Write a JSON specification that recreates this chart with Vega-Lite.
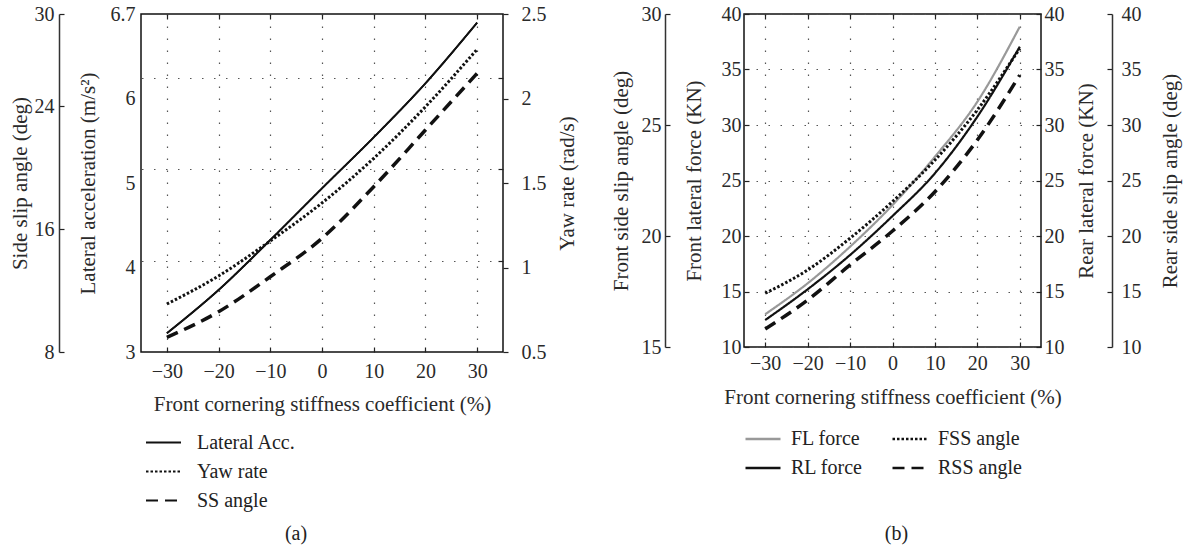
{
 "$schema": "https://vega.github.io/schema/vega-lite/v6.json",
 "background": "white",
 "padding": {"left": 8, "top": 3, "right": 5, "bottom": 5},
 "spacing": 31,
 "resolve": {"scale": {"color": "independent", "strokeDash": "independent"}, "legend": {"color": "independent", "strokeDash": "independent"}},
 "datasets": {
  "a": [
   {"x": -30, "series": "Lateral Acc.", "v": 3.205},
   {"x": -20, "series": "Lateral Acc.", "v": 3.679},
   {"x": -10, "series": "Lateral Acc.", "v": 4.226},
   {"x": 0, "series": "Lateral Acc.", "v": 4.792},
   {"x": 10, "series": "Lateral Acc.", "v": 5.35},
   {"x": 20, "series": "Lateral Acc.", "v": 5.941},
   {"x": 30, "series": "Lateral Acc.", "v": 6.605},
   {"x": -30, "series": "Yaw rate", "v": 0.784},
   {"x": -20, "series": "Yaw rate", "v": 0.95},
   {"x": -10, "series": "Yaw rate", "v": 1.157},
   {"x": 0, "series": "Yaw rate", "v": 1.382},
   {"x": 10, "series": "Yaw rate", "v": 1.646},
   {"x": 20, "series": "Yaw rate", "v": 1.951},
   {"x": 30, "series": "Yaw rate", "v": 2.291},
   {"x": -30, "series": "SS angle", "v": 8.957},
   {"x": -20, "series": "SS angle", "v": 10.62},
   {"x": -10, "series": "SS angle", "v": 12.9},
   {"x": 0, "series": "SS angle", "v": 15.4},
   {"x": 10, "series": "SS angle", "v": 18.76},
   {"x": 20, "series": "SS angle", "v": 22.45},
   {"x": 30, "series": "SS angle", "v": 26.14}
  ],
  "b": [
   {"x": -30, "series": "FL force", "v": 12.95},
   {"x": -20, "series": "FL force", "v": 15.74},
   {"x": -10, "series": "FL force", "v": 19.04},
   {"x": 0, "series": "FL force", "v": 22.79},
   {"x": 10, "series": "FL force", "v": 27.14},
   {"x": 20, "series": "FL force", "v": 32.1},
   {"x": 30, "series": "FL force", "v": 38.86},
   {"x": -30, "series": "RL force", "v": 12.43},
   {"x": -20, "series": "RL force", "v": 15.2},
   {"x": -10, "series": "RL force", "v": 18.29},
   {"x": 0, "series": "RL force", "v": 21.8},
   {"x": 10, "series": "RL force", "v": 25.65},
   {"x": 20, "series": "RL force", "v": 30.75},
   {"x": 30, "series": "RL force", "v": 37.05},
   {"x": -30, "series": "FSS angle", "v": 17.42},
   {"x": -20, "series": "FSS angle", "v": 18.47},
   {"x": -10, "series": "FSS angle", "v": 19.9},
   {"x": 0, "series": "FSS angle", "v": 21.55},
   {"x": 10, "series": "FSS angle", "v": 23.42},
   {"x": 20, "series": "FSS angle", "v": 25.68},
   {"x": 30, "series": "FSS angle", "v": 28.45},
   {"x": -30, "series": "RSS angle", "v": 11.62},
   {"x": -20, "series": "RSS angle", "v": 14.23},
   {"x": -10, "series": "RSS angle", "v": 17.39},
   {"x": 0, "series": "RSS angle", "v": 20.45},
   {"x": 10, "series": "RSS angle", "v": 23.99},
   {"x": 20, "series": "RSS angle", "v": 28.65},
   {"x": 30, "series": "RSS angle", "v": 34.5}
  ]
 },
 "hconcat": [
  {
   "width": 362,
   "height": 338,
   "data": {"name": "a"},
   "title": {"text": "(a)", "orient": "bottom", "offset": 13, "dx": -26},
   "layer": [
    {
     "transform": [{"filter": "datum.series == 'Lateral Acc.'"}],
     "mark": {"type": "line", "color": "#111", "strokeWidth": 1.8, "interpolate": "monotone"},
     "encoding": {
      "x": {"field": "x", "type": "quantitative", "scale": {"domain": [-35, 35], "nice": false},
            "axis": {"title": "Front cornering stiffness coefficient (%)", "values": [-30, -20, -10, 0, 10, 20, 30], "tickSize": -5, "grid": true, "domain": false, "labelPadding": 14, "titlePadding": 12}},
      "y": {"field": "v", "type": "quantitative", "scale": {"domain": [3, 6.7], "nice": false, "zero": false},
            "axis": {"title": "Lateral acceleration (m/s²)", "values": [3, 3.925, 4.85, 5.775, 6.7], "labelExpr": "datum.value > 6.5 ? '6.7' : format(round(datum.value), 'd')", "ticks": false, "grid": false, "domain": false, "labelPadding": 6, "titlePadding": 12}},
      "strokeDash": {"field": "series", "type": "nominal",
            "scale": {"domain": ["Lateral Acc.", "Yaw rate", "SS angle"], "range": [[1, 0], [2.5, 2], [12, 7]]},
            "legend": {"title": null, "orient": "none", "legendX": 4, "legendY": 410, "direction": "vertical", "symbolType": "stroke", "symbolSize": 1225, "symbolStrokeWidth": 2, "symbolStrokeColor": "#111", "labelFontSize": 20, "labelFont": "Liberation Serif", "labelColor": "#222", "labelOffset": 15, "rowPadding": -9, "padding": 0}}
     }
    },
    {
     "transform": [{"filter": "datum.series == 'Lateral Acc.'"}],
     "mark": {"type": "line", "color": "#111", "strokeWidth": 1.8, "interpolate": "monotone"},
     "encoding": {
      "x": {"field": "x", "type": "quantitative", "scale": {"domain": [-35, 35], "nice": false},
            "axis": {"orient": "top", "title": null, "labels": false, "values": [-30, -20, -10, 0, 10, 20, 30], "tickSize": -5, "grid": false, "domain": false}},
      "y": {"field": "v", "type": "quantitative", "scale": {"domain": [3, 6.7], "nice": false, "zero": false},
            "axis": {"title": null, "labels": false, "values": [4, 5, 6], "tickSize": -5, "grid": true, "domain": false}}
     }
    },
    {
     "transform": [{"filter": "datum.series == 'Yaw rate'"}],
     "mark": {"type": "line", "color": "#111", "strokeWidth": 3, "interpolate": "monotone"},
     "encoding": {
      "x": {"field": "x", "type": "quantitative", "scale": {"domain": [-35, 35], "nice": false}, "axis": null},
      "y": {"field": "v", "type": "quantitative", "scale": {"domain": [0.5, 2.5], "nice": false, "zero": false},
            "axis": {"orient": "right", "title": "Yaw rate (rad/s)", "titleAngle": 270, "titleBaseline": "top", "format": "~g", "values": [0.5, 1, 1.5, 2, 2.5], "tickSize": 5, "grid": false, "domain": false, "labelPadding": 13, "titlePadding": 10}},
      "strokeDash": {"field": "series", "type": "nominal", "scale": {"domain": ["Lateral Acc.", "Yaw rate", "SS angle"], "range": [[1, 0], [2.5, 2], [12, 7]]}}
     }
    },
    {
     "transform": [{"filter": "datum.series == 'SS angle'"}],
     "mark": {"type": "line", "color": "#111", "strokeWidth": 3.5, "interpolate": "monotone"},
     "encoding": {
      "x": {"field": "x", "type": "quantitative", "scale": {"domain": [-35, 35], "nice": false}, "axis": null},
      "y": {"field": "v", "type": "quantitative", "scale": {"domain": [8, 30], "nice": false, "zero": false},
            "axis": {"orient": "left", "offset": 82, "title": "Side slip angle (deg)", "values": [8, 16, 24, 30], "tickSize": -5, "grid": false, "domain": true, "labelPadding": 10, "titlePadding": 4}},
      "strokeDash": {"field": "series", "type": "nominal", "scale": {"domain": ["Lateral Acc.", "Yaw rate", "SS angle"], "range": [[1, 0], [2.5, 2], [12, 7]]}}
     }
    }
   ],
   "resolve": {"scale": {"y": "independent"}, "axis": {"x": "independent", "y": "independent"}}
  },
  {
   "width": 297,
   "height": 333,
   "data": {"name": "b"},
   "title": {"text": "(b)", "orient": "bottom", "offset": 46, "dx": 4},
   "layer": [
    {
     "transform": [{"filter": "datum.series == 'FL force'"}],
     "mark": {"type": "line", "strokeWidth": 2.2, "interpolate": "monotone"},
     "encoding": {
      "x": {"field": "x", "type": "quantitative", "scale": {"domain": [-35, 35], "nice": false},
            "axis": {"title": "Front cornering stiffness coefficient (%)", "values": [-30, -20, -10, 0, 10, 20, 30], "tickSize": -5, "grid": true, "domain": false, "labelPadding": 11, "titlePadding": 13}},
      "y": {"field": "v", "type": "quantitative", "scale": {"domain": [10, 40], "nice": false, "zero": false},
            "axis": {"title": "Front lateral force (KN)", "values": [10, 15, 20, 25, 30, 35, 40], "tickSize": -5, "grid": true, "domain": false, "labelPadding": 8, "titlePadding": 17}},
      "color": {"field": "series", "type": "nominal", "scale": {"domain": ["FL force", "FSS angle", "RL force", "RSS angle"], "range": ["#999999", "#111111", "#111111", "#111111"]},
            "legend": {"title": null, "orient": "none", "legendX": 0, "legendY": 406, "direction": "horizontal", "columns": 2, "columnPadding": 24, "symbolType": "stroke", "symbolSize": 1225, "symbolStrokeWidth": 2.5, "labelFontSize": 20, "labelFont": "Liberation Serif", "labelColor": "#222", "labelOffset": 9, "rowPadding": -6, "padding": 0}},
      "strokeDash": {"field": "series", "type": "nominal", "scale": {"domain": ["FL force", "FSS angle", "RL force", "RSS angle"], "range": [[1, 0], [2.5, 2], [1, 0], [12, 7]]},
            "legend": {"title": null, "orient": "none", "legendX": 0, "legendY": 406, "direction": "horizontal", "columns": 2, "columnPadding": 24, "symbolType": "stroke", "symbolSize": 1225, "symbolStrokeWidth": 2.5, "labelFontSize": 20, "labelFont": "Liberation Serif", "labelColor": "#222", "labelOffset": 9, "rowPadding": -6, "padding": 0}}
     }
    },
    {
     "transform": [{"filter": "datum.series == 'RL force'"}],
     "mark": {"type": "line", "strokeWidth": 2.2, "interpolate": "monotone"},
     "encoding": {
      "x": {"field": "x", "type": "quantitative", "scale": {"domain": [-35, 35], "nice": false},
            "axis": {"orient": "top", "title": null, "labels": false, "values": [-30, -20, -10, 0, 10, 20, 30], "tickSize": -5, "grid": false, "domain": false}},
      "y": {"field": "v", "type": "quantitative", "scale": {"domain": [10, 40], "nice": false, "zero": false},
            "axis": {"orient": "right", "title": "Rear lateral force (KN)", "titleAngle": 270, "titleBaseline": "top", "values": [10, 15, 20, 25, 30, 35, 40], "tickSize": -5, "grid": false, "domain": false, "labelPadding": 8, "titlePadding": 11}},
      "color": {"field": "series", "type": "nominal", "scale": {"domain": ["FL force", "FSS angle", "RL force", "RSS angle"], "range": ["#999999", "#111111", "#111111", "#111111"]}},
      "strokeDash": {"field": "series", "type": "nominal", "scale": {"domain": ["FL force", "FSS angle", "RL force", "RSS angle"], "range": [[1, 0], [2.5, 2], [1, 0], [12, 7]]}}
     }
    },
    {
     "transform": [{"filter": "datum.series == 'FSS angle'"}],
     "mark": {"type": "line", "strokeWidth": 3, "interpolate": "monotone"},
     "encoding": {
      "x": {"field": "x", "type": "quantitative", "scale": {"domain": [-35, 35], "nice": false}, "axis": null},
      "y": {"field": "v", "type": "quantitative", "scale": {"domain": [15, 30], "nice": false, "zero": false},
            "axis": {"orient": "left", "offset": 79, "title": "Front side slip angle (deg)", "values": [15, 20, 25, 30], "tickSize": -5, "grid": false, "domain": true, "labelPadding": 9, "titlePadding": 10}},
      "color": {"field": "series", "type": "nominal", "scale": {"domain": ["FL force", "FSS angle", "RL force", "RSS angle"], "range": ["#999999", "#111111", "#111111", "#111111"]}},
      "strokeDash": {"field": "series", "type": "nominal", "scale": {"domain": ["FL force", "FSS angle", "RL force", "RSS angle"], "range": [[1, 0], [2.5, 2], [1, 0], [12, 7]]}}
     }
    },
    {
     "transform": [{"filter": "datum.series == 'RSS angle'"}],
     "mark": {"type": "line", "strokeWidth": 3.5, "interpolate": "monotone"},
     "encoding": {
      "x": {"field": "x", "type": "quantitative", "scale": {"domain": [-35, 35], "nice": false}, "axis": null},
      "y": {"field": "v", "type": "quantitative", "scale": {"domain": [10, 40], "nice": false, "zero": false},
            "axis": {"orient": "right", "offset": 71, "title": "Rear side slip angle (deg)", "titleAngle": 270, "titleBaseline": "top", "values": [10, 15, 20, 25, 30, 35, 40], "tickSize": -5, "grid": false, "domain": true, "labelPadding": 14, "titlePadding": 18}},
      "color": {"field": "series", "type": "nominal", "scale": {"domain": ["FL force", "FSS angle", "RL force", "RSS angle"], "range": ["#999999", "#111111", "#111111", "#111111"]}},
      "strokeDash": {"field": "series", "type": "nominal", "scale": {"domain": ["FL force", "FSS angle", "RL force", "RSS angle"], "range": [[1, 0], [2.5, 2], [1, 0], [12, 7]]}}
     }
    }
   ],
   "resolve": {"scale": {"y": "independent"}, "axis": {"x": "independent", "y": "independent"}}
  }
 ],
 "config": {
  "font": "Liberation Serif",
  "view": {"stroke": "#111", "strokeWidth": 1.5},
  "axis": {
   "labelFont": "Liberation Serif", "labelFontSize": 20, "labelColor": "#2a2a2a",
   "titleFont": "Liberation Serif", "titleFontSize": 21, "titleFontWeight": "normal", "titleColor": "#2a2a2a",
   "domainColor": "#333", "domainWidth": 1.5, "tickColor": "#222", "tickWidth": 1.2,
   "gridColor": "#555", "gridDash": [1.5, 10.5], "gridOpacity": 1, "gridWidth": 1.2
  },
  "title": {"font": "Liberation Serif", "fontSize": 20, "fontWeight": "normal", "color": "#222", "anchor": "middle"}
 }
}
